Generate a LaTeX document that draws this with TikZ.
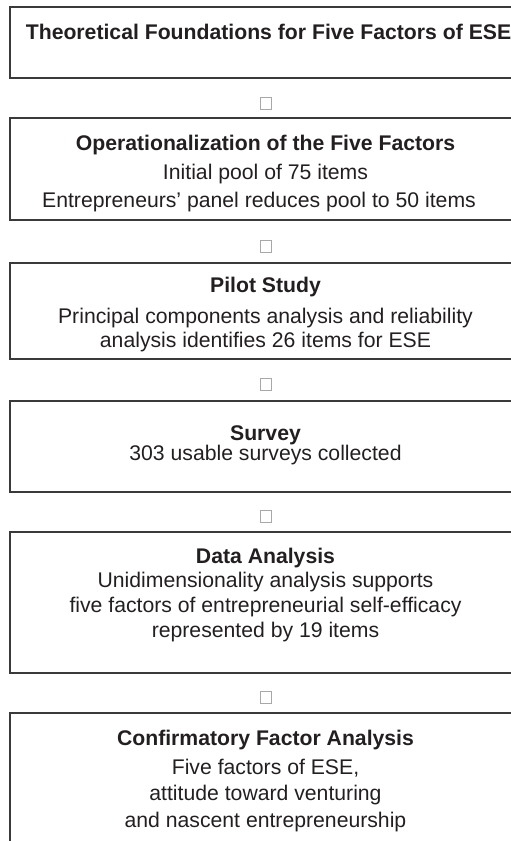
\documentclass[tikz,border=0pt]{standalone}
\usepackage{fontspec}
\setmainfont{Liberation Sans}
\definecolor{txt}{HTML}{231F20}
\definecolor{frame}{HTML}{3A3A3A}
\definecolor{sq}{HTML}{A8A8A8}
\tikzset{
  box/.style={draw=frame, line width=1.6pt, rectangle, inner sep=0pt, fill=none},
  ttl/.style={font=\fontsize{21.2}{25}\selectfont\bfseries, text=txt, inner sep=0pt},
  ln/.style={font=\fontsize{21.2}{25}\selectfont, text=txt, inner sep=0pt},
  glyphbox/.style={draw=sq, line width=0.6pt, fill=white, minimum width=11pt, minimum height=12pt, inner sep=0pt}
}
\begin{document}
\begin{tikzpicture}[x=1pt,y=-1pt]
\useasboundingbox (0,0) rectangle (511,841);
\clip (0,0) rectangle (511,841);
\node[box, minimum width=515pt, minimum height=71pt] (b1) at (267.5,42.5) {};
\node[box, minimum width=515pt, minimum height=102pt] (b2) at (267.5,169) {};
\node[box, minimum width=515pt, minimum height=96pt] (b3) at (267.5,311) {};
\node[box, minimum width=515pt, minimum height=91pt] (b4) at (267.5,446.5) {};
\node[box, minimum width=515pt, minimum height=141pt] (b5) at (267.5,602.5) {};
\node[box, minimum width=515pt, minimum height=160pt] (b6) at (267.5,793) {};
\node[glyphbox] (s1) at (265.5,103) {};
\node[glyphbox] (s2) at (265.5,246.5) {};
\node[glyphbox] (s3) at (265.5,384) {};
\node[glyphbox] (s4) at (265.5,516.5) {};
\node[glyphbox] (s5) at (265.5,697.5) {};
\node[ttl] (t1) at (268.5,32) {Theoretical Foundations for Five Factors of ESE};
\node[ttl] (t2) at (265.5,145) {Operationalization of the Five Factors};
\node[ln] (t2a) at (265.5,174) {Initial pool of 75 items};
\node[ln] (t2b) at (259,202) {Entrepreneurs’ panel reduces pool to 50 items};
\node[ttl] (t3) at (265.5,287) {Pilot Study};
\node[ln] (t3a) at (265.5,318) {Principal components analysis and reliability};
\node[ln] (t3b) at (265.5,342) {analysis identifies 26 items for ESE};
\node[ttl] (t4) at (265.5,435) {Survey};
\node[ln] (t4a) at (265.5,455) {303 usable surveys collected};
\node[ttl] (t5) at (265.5,558) {Data Analysis};
\node[ln] (t5a) at (265.5,582) {Unidimensionality analysis supports};
\node[ln] (t5b) at (265.5,607) {five factors of entrepreneurial self-efficacy};
\node[ln] (t5c) at (265.5,632) {represented by 19 items};
\node[ttl] (t6) at (265.5,740) {Confirmatory Factor Analysis};
\node[ln] (t6a) at (265.5,768) {Five factors of ESE,};
\node[ln] (t6b) at (265.5,795) {attitude toward venturing};
\node[ln] (t6c) at (265.5,822) {and nascent entrepreneurship};
\end{tikzpicture}
\end{document}
